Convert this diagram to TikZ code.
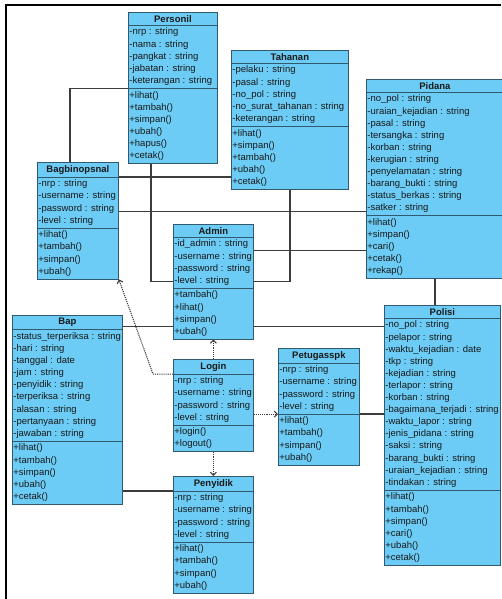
\documentclass[tikz,border=0pt]{standalone}
\usepackage{fontspec}
\setmainfont{Liberation Sans}
\usetikzlibrary{shapes.multipart,arrows.meta}
\definecolor{boxfill}{RGB}{108,204,245}
\definecolor{boxline}{RGB}{50,90,110}
\definecolor{wire}{RGB}{60,60,60}
\definecolor{ink}{RGB}{25,25,25}

\tikzset{
  umlclass/.style={rectangle split, rectangle split parts=3,
    rectangle split part align={center,left,left},
    draw=boxline, fill=boxfill, line width=0.8pt, text=ink,
    minimum width=#1, align=left, inner xsep=1pt, inner ysep=2.5pt,
    anchor=north west, font=\fontsize{9.5}{12.1}\selectfont},
  link/.style={draw=wire, line width=1.2pt},
  dep/.style={draw=wire, line width=1.1pt, densely dotted,
    -{Straight Barb[length=3pt,width=6pt]}}
}

\begin{document}
\begin{tikzpicture}[x=1pt,y=-1pt]
  \useasboundingbox (0,0) rectangle (501,599);
  \draw[line width=2.5pt] (6,599) -- (6,5) -- (501,5);

  \node[umlclass=89pt] (personil) at (128,12) {\textbf{Personil}
    \nodepart{second} -nrp : string\\ -nama : string\\ -pangkat : string\\
      -jabatan : string\\ -keterangan : string
    \nodepart{third} +lihat()\\ +tambah()\\ +simpan()\\ +ubah()\\ +hapus()\\ +cetak()};
  \node[umlclass=117pt] (tahanan) at (231,50) {\textbf{Tahanan}
    \nodepart{second} -pelaku : string\\ -pasal : string\\ -no\_pol : string\\
      -no\_surat\_tahanan : string\\ -keterangan : string
    \nodepart{third} +lihat()\\ +simpan()\\ +tambah()\\ +ubah()\\ +cetak()};
  \node[umlclass=137pt] (pidana) at (366,79) {\textbf{Pidana}
    \nodepart{second} -no\_pol : string\\ -uraian\_kejadian : string\\ -pasal : string\\
      -tersangka : string\\ -korban : string\\ -kerugian : string\\
      -penyelamatan : string\\ -barang\_bukti : string\\ -status\_berkas : string\\
      -satker : string
    \nodepart{third} +lihat()\\ +simpan()\\ +cari()\\ +cetak()\\ +rekap()};
  \node[umlclass=81pt] (bagbinopsnal) at (37,162) {\textbf{Bagbinopsnal}
    \nodepart{second} -nrp : string\\ -username : string\\ -password : string\\ -level : string
    \nodepart{third} +lihat()\\ +tambah()\\ +simpan()\\ +ubah()};
  \node[umlclass=80pt] (admin) at (173,224) {\textbf{Admin}
    \nodepart{second} -id\_admin : string\\ -username : string\\ -password : string\\ -level : string
    \nodepart{third} +tambah()\\ +lihat()\\ +simpan()\\ +ubah()};
  \node[umlclass=110pt] (bap) at (12,315) {\textbf{Bap}
    \nodepart{second} -status\_terperiksa : string\\ -hari : string\\ -tanggal : date\\
      -jam : string\\ -penyidik : string\\ -terperiksa : string\\ -alasan : string\\
      -pertanyaan : string\\ -jawaban : string
    \nodepart{third} +lihat()\\ +tambah()\\ +simpan()\\ +ubah()\\ +cetak()};
  \node[umlclass=80pt] (login) at (173,359) {\textbf{Login}
    \nodepart{second} -nrp : string\\ -username : string\\ -password : string\\ -level : string
    \nodepart{third} +login()\\ +logout()};
  \node[umlclass=81pt] (petugasspk) at (278,348) {\textbf{Petugasspk}
    \nodepart{second} -nrp : string\\ -username : string\\ -password : string\\ -level : string
    \nodepart{third} +lihat()\\ +tambah()\\ +simpan()\\ +ubah()};
  \node[umlclass=80pt] (penyidik) at (173,476) {\textbf{Penyidik}
    \nodepart{second} -nrp : string\\ -username : string\\ -password : string\\ -level : string
    \nodepart{third} +lihat()\\ +tambah()\\ +simpan()\\ +ubah()};
  \node[umlclass=116pt] (polisi) at (384,305) {\textbf{Polisi}
    \nodepart{second} -no\_pol : string\\ -pelapor : string\\ -waktu\_kejadian : date\\
      -tkp : string\\ -kejadian : string\\ -terlapor : string\\ -korban : string\\
      -bagaimana\_terjadi : string\\ -waktu\_lapor : string\\ -jenis\_pidana : string\\
      -saksi : string\\ -barang\_bukti : string\\ -uraian\_kejadian : string\\
      -tindakan : string
    \nodepart{third} +lihat()\\ +tambah()\\ +simpan()\\ +cari()\\ +ubah()\\ +cetak()};

  \coordinate (pid-a) at ([yshift=4pt]pidana.two split west);
  \coordinate (adm-b) at ([yshift=-13pt]admin.text split east);
  \coordinate (pol-a) at ([yshift=-8pt]polisi.text split west);
  \coordinate (adm-c) at ([yshift=13pt]admin.south west);

  \draw[link] (personil.two split west) -| ([xshift=-8pt]bagbinopsnal.north);
  \draw[link] ([xshift=-22pt]personil.south) |- (admin.west);
  \draw[link] (bagbinopsnal.text split east) -- (bagbinopsnal.text split east -| tahanan.west);
  \draw[link] (tahanan.south) |- (admin.east);
  \draw[link] (bagbinopsnal.east |- pid-a) -- (pid-a);
  \draw[link] (adm-b) -- (adm-b -| pidana.west);
  \draw[link] (pidana.south) -- (pidana.south |- polisi.north);
  \draw[link] (admin.east |- pol-a) -- (pol-a);
  \draw[link] (bap.east |- adm-c) -- (adm-c);
  \draw[link] (bap.east |- penyidik.text split west) -- (penyidik.text split west);
  \draw[link] (petugasspk.two split east) -- (petugasspk.two split east -| polisi.west);

  \draw[dep] (login.text split west) -- ++(-20,0) -- (bagbinopsnal.south east);
  \draw[dep] (login.north) -- (admin.south);
  \draw[dep] (login.east |- petugasspk.two split west) -- (petugasspk.two split west);
  \draw[dep] (login.south) -- (penyidik.north);
\end{tikzpicture}
\end{document}
